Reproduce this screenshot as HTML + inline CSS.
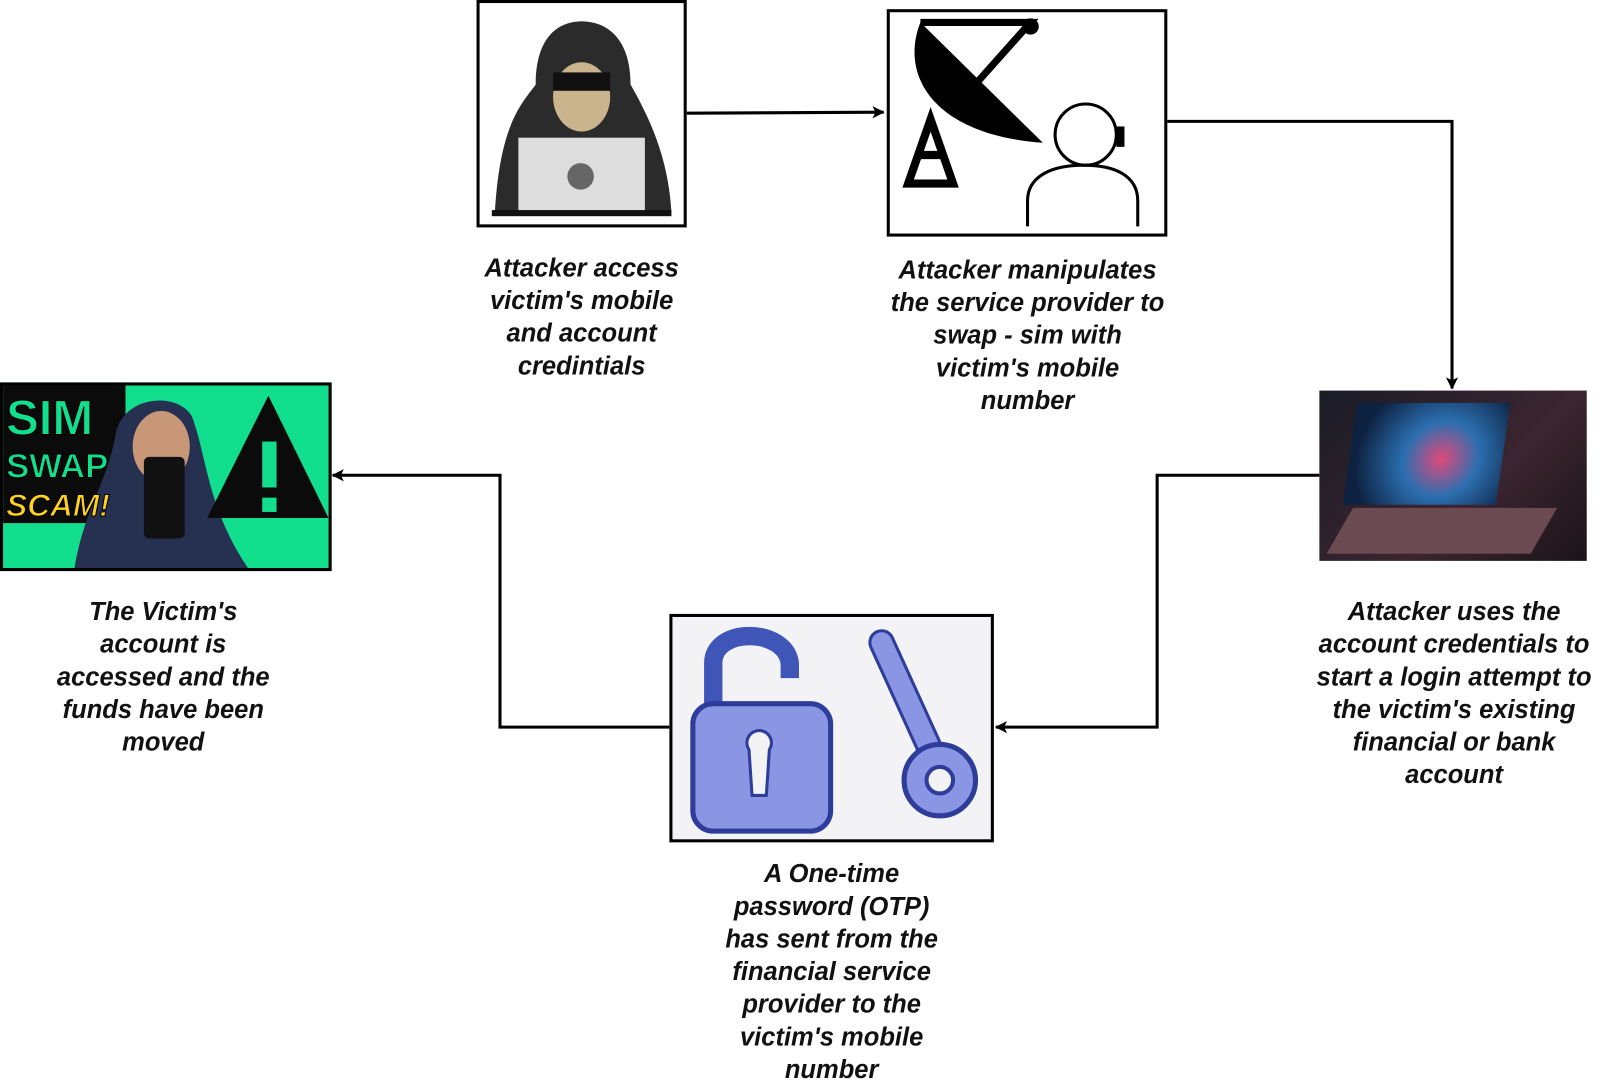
<!DOCTYPE html>
<html><head><meta charset="utf-8"><style>
html,body{margin:0;padding:0;background:#fff;width:1600px;height:1081px;overflow:hidden}
#w{position:absolute;left:0;top:0;width:1568px;height:1060px;transform:scale(1.0204,1.0198);transform-origin:0 0}
.t{position:absolute;font:italic bold 25px/32px "Liberation Sans",sans-serif;color:#111;text-align:center;white-space:nowrap}
.box{position:absolute;border:3px solid #000;box-sizing:border-box;background:#fff;overflow:hidden}
</style></head><body><div id="w">
<svg width="1568" height="1060" style="position:absolute;left:0;top:0">
<defs><marker id="a" markerWidth="12" markerHeight="12" refX="11" refY="6" orient="auto" markerUnits="userSpaceOnUse"><path d="M0,0 L12,6 L0,12 L3,6z" fill="#000"/></marker></defs>
<g fill="none" stroke="#000" stroke-width="3">
<path d="M672,111 L866,110" marker-end="url(#a)"/>
<path d="M1143,119 L1423,119 L1423,381" marker-end="url(#a)"/>
<path d="M1293,466 L1134,466 L1134,713 L976,713" marker-end="url(#a)"/>
<path d="M656,713 L490,713 L490,466 L326,466" marker-end="url(#a)"/>
</g></svg>

<div class="box" style="left:467px;top:0;width:206px;height:223px">
<svg width="200" height="217">
<path d="M15,205 C20,120 40,100 55,80 C55,30 80,18 100,18 C125,18 148,35 148,80 C165,110 185,150 188,205z" fill="#2b2b2b"/>
<ellipse cx="100" cy="92" rx="28" ry="34" fill="#c9b48e"/>
<rect x="72" y="68" width="56" height="18" fill="#111"/>
<rect x="38" y="132" width="124" height="75" fill="#ddd"/>
<circle cx="99" cy="170" r="13" fill="#666"/>
<rect x="12" y="203" width="176" height="6" fill="#111"/>
</svg></div>

<div class="box" style="left:869px;top:9px;width:275px;height:223px">
<svg width="269" height="217">
<path d="M30,10 C10,60 40,120 150,128 Z" fill="#000"/>
<path d="M30,10 L138,10 L80,75" fill="none" stroke="#000" stroke-width="7"/>
<circle cx="138" cy="14" r="8" fill="#000"/>
<path d="M40,105 L18,168 L62,168 Z M28,140 L52,140" fill="none" stroke="#000" stroke-width="8"/>
<circle cx="192" cy="120" r="30" fill="none" stroke="#000" stroke-width="3"/>
<path d="M135,210 L135,185 C135,160 160,150 190,150 C220,150 243,160 243,185 L243,210" fill="none" stroke="#000" stroke-width="3"/>
<rect x="222" y="112" width="8" height="20" fill="#000"/>
</svg></div>

<div style="position:absolute;left:1293px;top:383px;width:262px;height:167px;background:linear-gradient(135deg,#1a1c26,#3b2530 60%,#1b1418)">
<div style="position:absolute;left:30px;top:12px;width:150px;height:100px;background:radial-gradient(circle at 60% 55%,#e04a7a 0,#2b6fb0 35%,#0d2140 80%);transform:skewX(-8deg)"></div>
<div style="position:absolute;left:20px;top:115px;width:200px;height:45px;background:#6b4a52;transform:skewX(-30deg)"></div>
</div>

<div class="box" style="left:656px;top:602px;width:318px;height:224px;background:#f3f3f5">
<svg width="312" height="218">
<path d="M40,90 L40,45 C40,10 110,10 115,45 L115,60" fill="none" stroke="#3f55b8" stroke-width="18"/>
<rect x="20" y="85" width="135" height="125" rx="20" fill="#8a95e3" stroke="#2d3d99" stroke-width="5"/>
<path d="M75,130 a12,12 0 1,1 20,0 L92,175 L78,175z" fill="#f3f3f5" stroke="#2d3d99" stroke-width="3"/>
<path d="M205,25 L255,135" stroke="#2d3d99" stroke-width="26" stroke-linecap="round"/>
<path d="M205,25 L255,135" stroke="#8a95e3" stroke-width="20" stroke-linecap="round"/>
<circle cx="262" cy="160" r="35" fill="#8a95e3" stroke="#2d3d99" stroke-width="5"/>
<circle cx="262" cy="160" r="13" fill="#f3f3f5" stroke="#2d3d99" stroke-width="4"/>
</svg></div>

<div class="box" style="left:0;top:375px;width:325px;height:185px;background:#12df8e">
<svg width="319" height="179">
<path d="M0,0 L120,0 L120,135 L0,135z" fill="#0b0b0b"/>
<path d="M70,179 C80,120 100,100 110,50 C115,10 170,5 185,30 C200,70 200,120 240,179z" fill="#263050"/>
<ellipse cx="155" cy="60" rx="28" ry="35" fill="#c79778"/>
<rect x="138" y="70" width="40" height="80" rx="5" fill="#111"/>
<text x="3" y="48" font-family="Liberation Sans" font-weight="bold" font-size="48" fill="#12df8e" stroke="#000" stroke-width="1">SIM</text>
<text x="3" y="90" font-family="Liberation Sans" font-weight="bold" font-size="34" fill="#12df8e" stroke="#000" stroke-width="1">SWAP</text>
<text x="3" y="128" font-family="Liberation Sans" font-weight="bold" font-style="italic" font-size="31" fill="#ffd21f" stroke="#000" stroke-width="1">SCAM!</text>
<path d="M200,130 L260,10 L319,130z" fill="#0b0b0b"/>
<rect x="254" y="55" width="14" height="45" fill="#12df8e"/>
<rect x="254" y="110" width="14" height="14" fill="#12df8e"/>
</svg></div>

<div class="t" style="left:440px;top:247px;width:260px">Attacker access<br>victim's mobile<br>and account<br>credintials</div>
<div class="t" style="left:857px;top:249px;width:300px">Attacker manipulates<br>the service provider to<br>swap - sim with<br>victim's mobile<br>number</div>
<div class="t" style="left:1275px;top:584px;width:300px">Attacker uses the<br>account credentials to<br>start a login attempt to<br>the victim's existing<br>financial or bank<br>account</div>
<div class="t" style="left:20px;top:584px;width:280px">The Victim's<br>account is<br>accessed and the<br>funds have been<br>moved</div>
<div class="t" style="left:665px;top:841px;width:300px">A One-time<br>password (OTP)<br>has sent from the<br>financial service<br>provider to the<br>victim's mobile<br>number</div>
</div></body></html>
